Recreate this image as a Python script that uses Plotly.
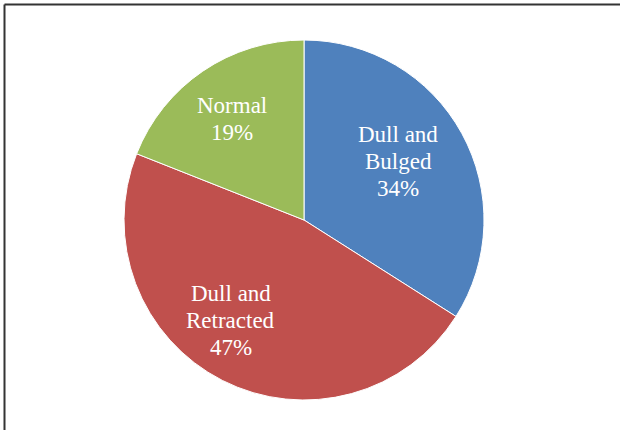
import math
import plotly.graph_objects as go

categories = ["Dull and Bulged", "Dull and Retracted", "Normal"]
label_lines = [["Dull and", "Bulged"], ["Dull and", "Retracted"], ["Normal"]]
shares = [34, 47, 19]
colors = ["#4F81BD", "#C0504D", "#9BBB59"]

W, H = 620, 430
cx, cy, r = 304, 220, 180

# label placement: radial fraction and small angular nudge per slice
label_radius = [0.615, 0.69, 0.69]
label_nudge_deg = [-3, 9, -1]
line_gap = 27
font = dict(family="'Times New Roman', 'Liberation Serif', 'DejaVu Serif', serif", size=23, color="white")

fig = go.Figure(go.Pie(
    labels=categories,
    values=shares,
    sort=False,
    direction="clockwise",
    rotation=0,
    marker=dict(colors=colors, line=dict(color="white", width=1)),
    textinfo="none",
    hoverinfo="skip",
    showlegend=False,
    domain=dict(x=[(cx - r) / W, (cx + r) / W], y=[1 - (cy + r) / H, 1 - (cy - r) / H]),
))

annotations = []
total = sum(shares)
cum = 0
for lines, v, frac, nudge in zip(label_lines, shares, label_radius, label_nudge_deg):
    mid = (cum + v / 2) / total * 360 + nudge
    cum += v
    th = math.radians(mid)
    px = cx + frac * r * math.sin(th)
    py = cy - frac * r * math.cos(th)
    texts = lines + [f"{v}%"]
    n = len(texts)
    for i, t in enumerate(texts):
        annotations.append(dict(
            text=t, x=px / W, y=1 - py / H, xref="paper", yref="paper",
            xanchor="center", yanchor="middle", showarrow=False,
            yshift=-(i - (n - 1) / 2) * line_gap, font=font,
        ))

fig.update_layout(
    width=W, height=H,
    margin=dict(l=0, r=0, t=0, b=0),
    paper_bgcolor="white",
    plot_bgcolor="white",
    annotations=annotations,
    shapes=[
        dict(type="line", xref="paper", yref="paper", x0=4.5 / W, x1=1, y0=1 - 4.5 / H, y1=1 - 4.5 / H,
             line=dict(color="#333333", width=2)),
        dict(type="line", xref="paper", yref="paper", x0=4.5 / W, x1=4.5 / W, y0=0, y1=1 - 4.5 / H,
             line=dict(color="#333333", width=2)),
    ],
)

fig.write_html("out.html")
